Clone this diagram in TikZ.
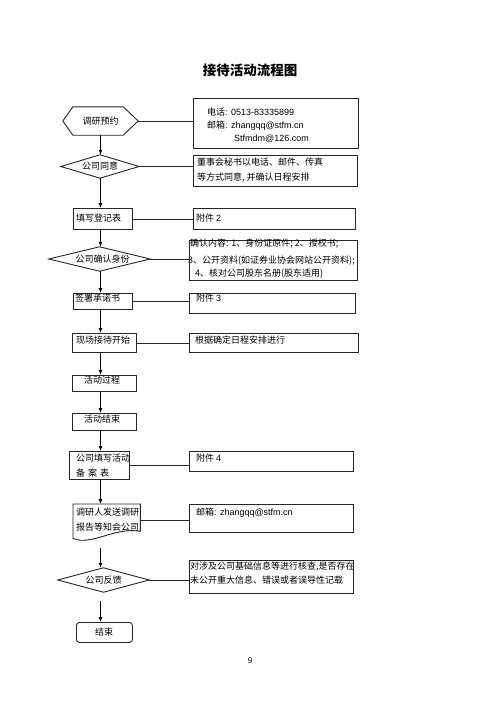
\documentclass[tikz,border=0pt]{standalone}
\usepackage{fontspec}
\setmainfont{Noto Sans CJK SC}
\newfontfamily\latfont{Liberation Sans}
\newcommand\lat[1]{{\latfont #1}}
\usetikzlibrary{calc,arrows.meta}
\tikzset{
  shp/.style={draw=black!85, line width=0.9pt},
  box/.style={shp, anchor=north west, inner sep=0pt},
  ghost/.style={inner sep=0pt},
  txt/.style={anchor=west, inner sep=0pt, align=left},
  ln/.style={draw=black!85, line width=0.8pt},
  arr/.style={draw=black, line width=0.8pt, -{Latex[length=5pt,width=4pt]}},
}
\begin{document}
\begin{tikzpicture}[x=1pt,y=-1pt,font=\fontsize{9pt}{13pt}\selectfont]
\useasboundingbox[fill=white] (0,0) rectangle (500,707);
\coordinate (col) at (100.5,0);

% title
\node[font=\bfseries\fontsize{13.5pt}{16pt}\selectfont] (title) at (250,70) {接待活动流程图};

% ---- main column ----
\node[ghost, minimum width=75, minimum height=28] (h1) at (100.5,121) {调研预约};
\draw[shp] (h1.west) -- ($(h1.north west)+(10,0)$) -- ($(h1.north east)+(-15,0)$) -- (h1.east)
  -- ($(h1.south east)+(-15,0)$) -- ($(h1.south west)+(10,0)$) -- cycle;

\node[ghost, minimum width=78, minimum height=23] (d1) at (100,166.5) {公司同意};
\draw[shp] (d1.west) -- (d1.north) -- (d1.east) -- (d1.south) -- cycle;

\node[box, minimum width=59, minimum height=21] (r1) at (73,208) {};
\node[txt] (r1t) at (76,218) {填写登记表};

\node[ghost, minimum width=101, minimum height=24] (d2) at (99.5,259) {\hspace*{6pt}公司确认身份};
\draw[shp] (d2.west) -- (d2.north) -- (d2.east) -- (d2.south) -- cycle;

\node[box, minimum width=59, minimum height=16] (r2) at (73,293) {};
\node[txt] (r2t) at (75,298) {签署承诺书};

\node[box, minimum width=64, minimum height=19] (r3) at (72,333) {};
\node[txt] (r3t) at (76,340) {现场接待开始};

\node[box, minimum width=64, minimum height=16] (r4) at (72,375) {};
\node[inner sep=0pt] (r4t) at (102,380) {活动过程};

\node[box, minimum width=64, minimum height=17] (r5) at (72,413) {};
\node[inner sep=0pt] (r5t) at (102,419) {活动结束};

\node[box, minimum width=60, minimum height=28] (r6) at (69,451) {};
\node[txt] (r6a) at (76,458) {公司填写活动};
\node[txt] (r6b) at (76,473) {备\hspace{3pt}案\hspace{3pt}表};

\node[ghost, anchor=north west, minimum width=67, minimum height=32] (doc) at (73,504) {};
\draw[shp] ($(doc.south east)+(0,-5)$) -- (doc.north east) -- (doc.north west) -- ($(doc.south west)+(0,2)$)
  .. controls ($(doc.south west)+(18,10)$) and ($(doc.south east)+(-25,-10)$) .. ($(doc.south east)+(0,-5)$);
\node[txt] (doca) at (76,512) {调研人发送调研};
\node[txt] (docb) at (76,527) {报告等知会公司};

\node[ghost, minimum width=91, minimum height=24] (d3) at (103.5,580) {公司反馈};
\draw[shp] (d3.west) -- (d3.north) -- (d3.east) -- (d3.south) -- cycle;

\node[box, rounded corners=3pt, minimum width=56, minimum height=20] (e) at (76,622) {};
\node[inner sep=0pt] (et) at (104,632) {结束};

% ---- right column boxes ----
\node[box, minimum width=165, minimum height=50] (b1) at (193,98) {};
\node[txt, font=\fontsize{9pt}{13pt}\selectfont] (b1t) at (207,125)
  {电话\lat{: 0513-83335899}\\邮箱\lat{: zhangqq@stfm.cn}\\\hspace*{27pt}\lat{Stfmdm@126.com}};

\node[box, minimum width=164, minimum height=31] (b2) at (193,155) {};
\node[txt, font=\fontsize{9pt}{15pt}\selectfont] (b2t) at (197,170.5)
  {董事会秘书以电话、邮件、传真\\等方式同意, 并确认日程安排};

\node[box, minimum width=162, minimum height=21] (b3) at (193,208) {};
\node[txt] (b3t) at (196,218) {附件 \lat{2}};

\node[box, minimum width=168, minimum height=40] (b4) at (189,240) {};
\node[txt] (b4a) at (190,244) {确认内容: 1、身份证原件; 2、授权书;};
\node[txt] (b4b) at (188,261) {3、公开资料(如证券业协会网站公开资料);};
\node[txt] (b4c) at (195,274) {4、核对公司股东名册(股东适用)};

\node[box, minimum width=166, minimum height=20] (b5) at (189,293) {};
\node[txt] (b5t) at (196,298) {附件 \lat{3}};

\node[box, minimum width=169, minimum height=19] (b6) at (189,333) {};
\node[txt] (b6t) at (195,340) {根据确定日程安排进行};

\node[box, minimum width=164, minimum height=20] (b7) at (189,451) {};
\node[txt] (b7t) at (196,458) {附件 \lat{4}};

\node[box, minimum width=164, minimum height=28] (b8) at (189,504) {};
\node[txt] (b8t) at (196,513) {邮箱\lat{: zhangqq@stfm.cn}};

\node[box, minimum width=164, minimum height=33] (b9) at (189,560) {};
\node[txt] (b9a) at (190,567) {对涉及公司基础信息等进行核查,是否存在};
\node[txt] (b9b) at (190,580) {未公开重大信息、错误或者误导性记载};

\node[font=\latfont\fontsize{8pt}{10pt}\selectfont] (pg) at (250,661) {9};

% ---- horizontal connectors ----
\draw[ln] (h1.east) -- (h1.east -| b1.west);
\draw[ln] (d1.east) -- (d1.east -| b2.west);
\draw[ln] (r1.east) -- (r1.east -| b3.west);
\draw[ln] (d2.east) -- (d2.east -| b4.west);
\draw[ln] (r2.east) -- (r2.east -| b5.west);
\draw[ln] (r3.east) -- (r3.east -| b6.west);
\draw[ln] (r6.east) -- (r6.east -| b7.west);
\draw[ln] (doc.east) -- (doc.east -| b8.west);
\draw[ln] (d3.east) -- (d3.east -| b9.west);

% ---- vertical arrows ----
\draw[arr] (h1.south -| col) -- (d1.north -| col);
\draw[arr] (d1.south -| col) -- (r1.north -| col);
\draw[arr] (r1.south -| col) -- (d2.north -| col);
\draw[arr] (d2.south -| col) -- (r2.north -| col);
\draw[arr] (r2.south -| col) -- (r3.north -| col);
\draw[arr] (r3.south -| col) -- (r4.north -| col);
\draw[arr] (r4.south -| col) -- (r5.north -| col);
\draw[arr] (r5.south -| col) -- (r6.north -| col);
\draw[arr] (r6.south -| col) -- (doc.north -| col);
\draw[arr, shorten <=12pt] (doc.south -| col) -- (d3.north -| col);
\draw[arr, shorten <=9pt] (d3.south -| col) -- (e.north -| col);
\end{tikzpicture}
\end{document}
